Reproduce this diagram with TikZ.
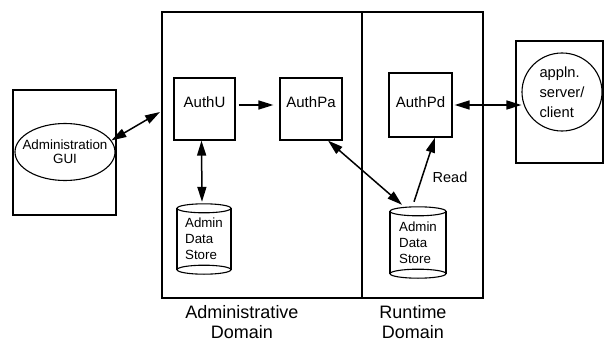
\documentclass[tikz,border=0pt]{standalone}
\usepackage{fontspec}
\setmainfont{Liberation Sans}
\usetikzlibrary{arrows.meta,shapes.geometric,calc}

% outline of a data-store drum around a (plain) node: #1 = node, #2 = half width
\newcommand\drumoutline[2]{%
  \draw[drumline] ($(#1.north)+(0,4.5)$) ellipse [x radius=#2pt, y radius=4.5pt];
  \draw[drumline] ($(#1.south)+(0,-4.5)$) ellipse [x radius=#2pt, y radius=4.5pt];
  \draw[drumline] ($(#1.north)+(-#2,4.5)$) -- ($(#1.south)+(-#2,-4.5)$);
  \draw[drumline] ($(#1.north)+(#2,4.5)$) -- ($(#1.south)+(#2,-4.5)$);
}

\tikzset{
  frame/.style={draw, rectangle, line width=1.3pt, inner sep=0pt},
  compbox/.style={draw, rectangle, line width=1.2pt, inner sep=0pt,
    font=\fontsize{15}{17}\selectfont},
  oval/.style={draw, ellipse, line width=1.1pt, inner sep=0pt},
  store/.style={rectangle, inner sep=0pt, align=left,
    font=\fontsize{13.3}{16}\selectfont},
  drumline/.style={line width=1.1pt},
  caption/.style={align=center, font=\fontsize{18}{20}\selectfont},
  link/.style={line width=1.5pt, -{Triangle[length=15pt,width=9pt]}},
  duplex/.style={line width=1.5pt, {Triangle[length=15pt,width=9pt]}-{Triangle[length=15pt,width=9pt]}},
}

\begin{document}
\begin{tikzpicture}[x=1pt, y=-1pt]
  \useasboundingbox (0,0) rectangle (605,345);

  % administration GUI
  \node[frame, minimum width=103pt, minimum height=125pt] (guiBox) at (64.5,152.5) {};
  \node[oval, minimum width=100pt, minimum height=57pt,
        label={[align=center, font=\fontsize{13.4}{14}\selectfont]center:Administration\\GUI}]
        (gui) at (65,152) {};

  % the two domains
  \node[frame, minimum width=200pt, minimum height=286pt] (adminDom) at (262,155) {};
  \node[frame, minimum width=121pt, minimum height=286pt] (runDom) at (422.5,155) {};

  % components
  \node[compbox, minimum width=61pt, minimum height=62pt, text depth=14pt] (authU) at (204.5,109) {AuthU};
  \node[compbox, minimum width=62pt, minimum height=62pt, text depth=14pt] (authPa) at (311,109) {AuthPa};
  \node[compbox, minimum width=63pt, minimum height=64pt, text depth=6pt] (authPd) at (420.5,105) {AuthPd};

  % data stores
  \node[store, minimum width=54pt, minimum height=70pt] (store1) at (204,239) {Admin\\Data\\Store};
  \drumoutline{store1}{27}
  \node[store, minimum width=56pt, minimum height=71pt] (store2) at (418,242.5) {Admin\\Data\\Store};
  \drumoutline{store2}{28}

  % application server / client
  \node[frame, minimum width=87pt, minimum height=122pt] (appBox) at (559.5,102) {};
  \node[oval, minimum width=80pt, minimum height=78pt,
        label={[align=left, font=\fontsize{14.7}{20}\selectfont]center:appln.\\server/\\client}]
        (app) at (562,92) {};

  % domain captions
  \node[caption] (adminLbl) at (242,322) {Administrative\\Domain};
  \node[caption] (runLbl) at (413,322) {Runtime\\Domain};

  % connectors
  \coordinate (adminIn) at (160,112);
  \draw[duplex] (gui.14) -- (adminIn);
  \draw[link] ([xshift=3pt,yshift=4pt]authU.east) -- ([xshift=-6pt,yshift=4pt]authPa.west);
  \draw[duplex] ([xshift=-3pt]authU.south) -- ([xshift=-2pt,yshift=2pt]store1.north);
  \draw[duplex] ([xshift=17pt]authPa.south) -- ([xshift=-16pt,yshift=2pt]store2.north);
  \draw[link] ([xshift=-4pt,yshift=5pt]store2.north) -- ([xshift=14.5pt]authPd.south);
  \node[font=\fontsize{14.5}{16}\selectfont] (readLbl) at (450,177) {Read};
  \draw[duplex] ([xshift=2pt]authPd.east) -- (authPd.east -| app.west);
\end{tikzpicture}
\end{document}
